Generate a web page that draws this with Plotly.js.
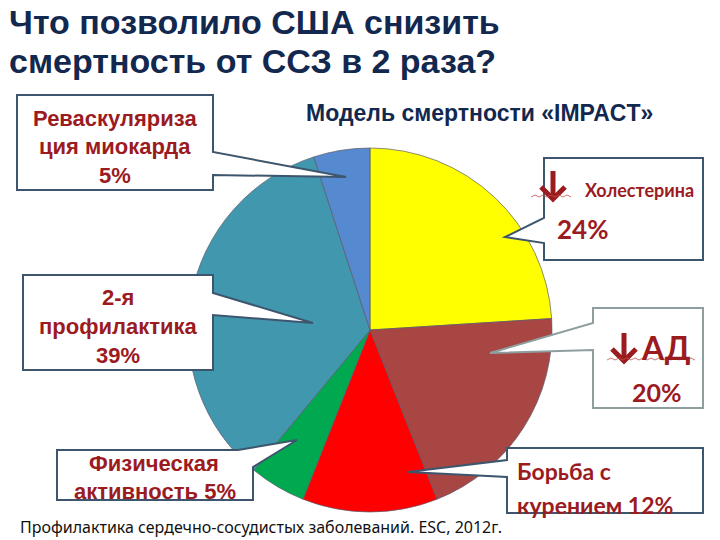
<!DOCTYPE html>
<html>
<head>
<meta charset="utf-8">
<script src="https://cdn.plot.ly/plotly-3.0.1.min.js"></script>
<style>html,body{margin:0;padding:0;background:#fff;}#chart{width:720px;height:540px;}</style>
</head>
<body>
<div id="chart"></div>
<script>
// Data (drawn slice shares, clockwise from 12 o'clock)
const categories = ["Холестерин", "АД", "Курение", "Физическая активность", "2-я профилактика", "Реваскуляризация миокарда"];
const sliceValues = [24, 20, 12, 5, 34, 5];
const labelPercents = ["24%", "20%", "12%", "5%", "39%", "5%"];
const sliceColors = ["#FFFF00", "#A84644", "#FF0000", "#00A94F", "#4197AE", "#5589D0"];

const W = 720, H = 540;
const px = x => x / W;
const py = y => 1 - y / H;
function pathOf(pts, close) {
  return "M " + pts.map(p => px(p[0]).toFixed(5) + "," + py(p[1]).toFixed(5)).join(" L ") + (close === false ? "" : " Z");
}

const dark = "#9B1B1F";
const navy = "#13284F";
const boxLine = "#3D566E";

const callouts = [
  [[17,95],[213,95],[213,152],[346,177],[213,175],[213,190],[17,190]],
  [[23,275],[213,275],[213,293],[313,323],[213,315],[213,370],[23,370]],
  [[57,450],[238,450],[297,440],[253,467],[253,500],[57,500]],
  [[507,448],[703,448],[703,513],[507,513],[507,477],[408,472],[507,460]],
  [[544,158],[703,158],[703,260],[544,260],[544,243],[505,237],[544,218]]
];
const shapes = callouts.map(pts => ({
  type: "path", xref: "paper", yref: "paper", layer: "above",
  path: pathOf(pts), fillcolor: "#FFFFFF", line: {color: boxLine, width: 2}
}));
shapes.push({
  type: "path", xref: "paper", yref: "paper", layer: "above",
  path: pathOf([[593,308],[703,308],[703,408],[593,408],[593,350],[490,353],[593,323]]),
  fillcolor: "#FFFFFF", line: {color: "#8E9E9E", width: 2}
});
// down arrows (decorative glyphs)
function arrow(cx, top, bottom, half) {
  shapes.push({type: "path", xref: "paper", yref: "paper", layer: "above",
    path: pathOf([[cx, top], [cx, bottom]], false), line: {color: dark, width: 5}});
  shapes.push({type: "path", xref: "paper", yref: "paper", layer: "above",
    path: pathOf([[cx - half, bottom - half], [cx, bottom], [cx + half, bottom - half]], false),
    line: {color: dark, width: 5}});
}
arrow(553, 171, 199, 12);
arrow(624, 333, 361, 12);
// wavy underline marks
shapes.push({type: "path", xref: "paper", yref: "paper", layer: "above",
  path: pathOf([[531,197],[535,195],[539,197],[543,195],[547,197],[551,195],[555,197],[559,195],[563,197],[567,195],[571,197]], false),
  line: {color: "#C0504D", width: 0.8}});
shapes.push({type: "path", xref: "paper", yref: "paper", layer: "above",
  path: pathOf([[607,360],[611,358],[615,360],[619,358],[623,360],[627,358],[631,360],[635,358],[639,360],[643,358],[647,360],[651,358],[655,360],[659,358],[663,360],[667,358],[671,360],[675,358],[679,360],[683,358],[687,360],[691,358],[695,360]], false),
  line: {color: "#C0504D", width: 0.8}});

function ann(text, x, y, size, color, family, anchor) {
  return {text: text, x: px(x), y: py(y), xref: "paper", yref: "paper",
    xanchor: anchor || "center", yanchor: "middle", showarrow: false,
    font: {size: size, color: color, family: family}};
}
const arial = "Liberation Sans, Arial, sans-serif";
const cal = "Lato, Open Sans, sans-serif";

const annotations = [
  ann("<b>Что позволило США снизить</b>", 7, 22, 34, navy, arial, "left"),
  ann("<b>смертность от ССЗ в 2 раза?</b>", 7, 61, 34, navy, arial, "left"),
  ann("<b>Модель смертности «IMPACT»</b>", 479, 113, 23, navy, arial),
  ann("<b>Реваскуляриза</b>", 115, 118, 22, dark, arial),
  ann("<b>ция миокарда</b>", 115, 147, 22, dark, arial),
  ann("<b>" + labelPercents[5] + "</b>", 115, 175, 22, dark, arial),
  ann("<b>2-я</b>", 118, 297, 22, dark, arial),
  ann("<b>профилактика</b>", 118, 326, 22, dark, arial),
  ann("<b>" + labelPercents[4] + "</b>", 118, 355, 22, dark, arial),
  ann("<b>Физическая</b>", 154, 463, 22, dark, arial),
  ann("<b>активность " + labelPercents[3] + "</b>", 155, 491, 22, dark, arial),
  ann("<b>Борьба с</b>", 515, 471, 23, dark, cal, "left"),
  ann("<b>курением " + labelPercents[2] + "</b>", 515, 505, 23, dark, cal, "left"),
  ann("<b>Холестерина</b>", 639, 190, 18, dark, cal),
  ann("<b>" + labelPercents[0] + "</b>", 582, 229, 26, dark, cal),
  ann("<b>АД</b>", 666, 347, 32, dark, cal),
  ann("<b>" + labelPercents[1] + "</b>", 657, 392, 25, dark, cal),
  ann("Профилактика сердечно-сосудистых заболеваний. ESC, 2012г.", 18, 527, 16, "#111111", "Noto Sans, Open Sans, sans-serif", "left")
];

const trace = {
  type: "pie",
  labels: categories,
  values: sliceValues,
  sort: false,
  direction: "clockwise",
  rotation: 0,
  textinfo: "none",
  hoverinfo: "none",
  showlegend: false,
  marker: {colors: sliceColors, line: {color: "#5A5A6A", width: 0.7}},
  domain: {x: [px(370 - 182), px(370 + 182)], y: [py(512), py(148)]}
};

Plotly.newPlot("chart", [trace], {
  width: W, height: H,
  margin: {l: 0, r: 0, t: 0, b: 0},
  paper_bgcolor: "#FFFFFF",
  showlegend: false,
  shapes: shapes,
  annotations: annotations
}, {staticPlot: true});
</script>
</body>
</html>
